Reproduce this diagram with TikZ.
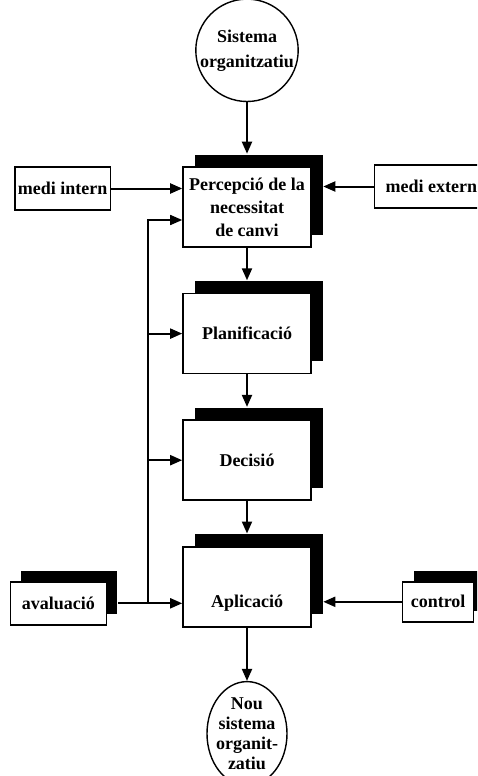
\documentclass[tikz,border=0pt]{standalone}
\usepackage{fontspec}
\setmainfont{Liberation Serif}
\usetikzlibrary{arrows.meta,positioning,shapes.geometric,shadows}

\begin{document}
\begin{tikzpicture}[
  x=1pt, y=-1pt,
  font=\fontsize{18}{23}\selectfont\bfseries,
  stage/.style={draw=black, line width=1.6pt, fill=white, minimum width=128pt, minimum height=80pt, align=center, inner sep=0pt,
    general shadow={fill=black, shadow xshift=11.5pt, shadow yshift=12.5pt}},
  source/.style={draw=black, line width=1.6pt, fill=white, minimum height=43pt, inner xsep=3pt, align=center},
  tagged/.style={source, general shadow={fill=black, shadow xshift=11pt, shadow yshift=11pt}},
  system/.style={draw=black, line width=1.4pt, fill=white, circle, minimum size=102pt, inner sep=0pt, align=center},
  newsystem/.style={draw=black, line width=1.4pt, fill=white, ellipse, minimum width=80pt, minimum height=104pt, inner xsep=-3pt, inner ysep=-4pt, align=center},
  arrow/.style={-{Triangle[length=12pt,width=10pt]}, line width=2pt},
  wire/.style={line width=1.6pt}
]
\useasboundingbox (0,0) rectangle (477,776);
\clip (0,0) rectangle (477,776);

% main column
\node[stage] (percep) at (247,207) {Percepció de la\\necessitat\\de canvi};
\node[system, above=64pt of percep, font=\fontsize{18}{25}\selectfont\bfseries] (sis) {Sistema\\organitzatiu};
\node[stage, below=45pt of percep] (plan) {Planificació};
\node[stage, below=45pt of plan] (deci) {Decisió};
\node[stage, below=45pt of deci, text height=42pt, text depth=0pt] (apli) {Aplicació};
\node[newsystem, below=106pt of apli, anchor=center, font=\fontsize{18}{20}\selectfont\bfseries] (nou) {Nou\\sistema\\organit-\\zatiu};

% side inputs
\node[source, left=71pt of percep, yshift=18.5pt] (intern) {medi intern};
\node[source, right=62pt of percep, yshift=20.5pt, inner xsep=11pt] (extern) {medi extern};
\node[tagged, left=75pt of apli, yshift=-16.5pt, minimum width=96pt] (aval) {avaluació};
\node[tagged, right=90pt of apli, yshift=-15pt, minimum height=40pt, minimum width=71pt] (ctrl) {control};

\coordinate (percep-back) at ([xshift=11.5pt]percep.east);
\coordinate (apli-back) at ([xshift=11.5pt]apli.east);
\coordinate (feed) at ([yshift=-13pt]percep.west);
\coordinate (bus) at ([xshift=-34pt]apli.west);

\draw[arrow] (sis) -- ([yshift=12.5pt]percep.north);
\draw[arrow] (percep.south) -- ([yshift=12.5pt]plan.north);
\draw[arrow] (plan.south) -- ([yshift=12.5pt]deci.north);
\draw[arrow] (deci.south) -- ([yshift=12.5pt]apli.north);
\draw[arrow] (apli.south) -- (nou.north);

\draw[arrow] (intern.east) -- (intern.east -| percep.west);
\draw[arrow] (extern.west) -- (extern.west -| percep-back);
\draw[arrow] (ctrl.west) -- (ctrl.west -| apli-back);

% feedback from avaluació
\draw[arrow] ([xshift=11pt]aval.east) -- (apli.west |- aval.east);
\draw[wire, -{Triangle[length=12pt,width=10pt]}] (bus |- aval.east) -- (bus |- feed) -- (feed);
\draw[arrow] (bus |- plan.west) -- (plan.west);
\draw[arrow] (bus |- deci.west) -- (deci.west);
\end{tikzpicture}
\end{document}
